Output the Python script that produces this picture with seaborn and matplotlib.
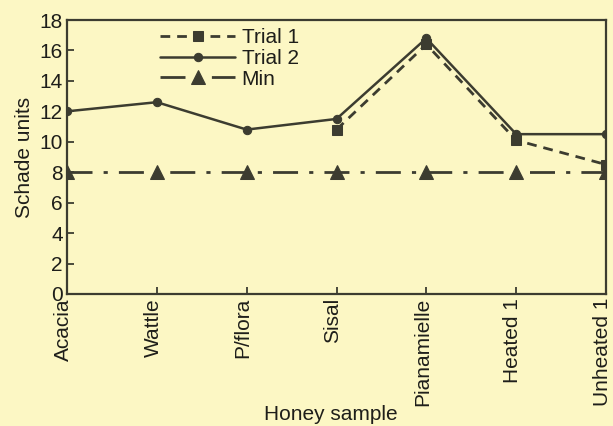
import numpy as np
import pandas as pd
import matplotlib
matplotlib.use("Agg")
import matplotlib.pyplot as plt
from matplotlib.transforms import ScaledTranslation
import seaborn as sns

samples = ["Acacia", "Wattle", "P/flora", "Sisal", "Pianamielle", "Heated 1", "Unheated 1"]
trial1 = [np.nan, np.nan, np.nan, 10.8, 16.4, 10.1, 8.5]
trial2 = [12.0, 12.6, 10.8, 11.5, 16.8, 10.5, 10.5]
minimum = [8.0, 8.0, 8.0, 8.0, 8.0, 8.0, 8.0]
yticks = list(range(0, 20, 2))

bg = "#fcf7c4"
ink = "#3c3c30"
txt = "#1e1e1a"
fs = 15

sns.set_theme(style="ticks")
plt.rcParams["font.family"] = ["Liberation Sans", "DejaVu Sans"]

fig = plt.figure(figsize=(6.13, 4.26), dpi=100, facecolor=bg)
ax = fig.add_axes([0.1093, 0.31, 0.8793, 0.643])
ax.set_facecolor(bg)

pos = np.arange(len(samples))
df = pd.DataFrame({"pos": pos, "Trial 1": trial1, "Trial 2": trial2, "Min": minimum})

sns.lineplot(data=df, x="pos", y="Trial 1", ax=ax, color=ink, lw=2,
             linestyle=(0, (3.5, 2.5)), marker="s", markersize=7.5, markeredgecolor=ink,
             label="Trial 1")
sns.lineplot(data=df, x="pos", y="Trial 2", ax=ax, color=ink, lw=1.8,
             marker="o", markersize=6, markeredgecolor=ink, label="Trial 2")
sns.lineplot(data=df, x="pos", y="Min", ax=ax, color=ink, lw=2,
             linestyle=(0, (9, 4, 1.5, 4)), marker="^", markersize=10.5,
             markeredgecolor=ink, label="Min")

ax.set_xlim(0, len(samples) - 1)
ax.set_ylim(0, 18)
ax.set_yticks(yticks)
ax.set_xticks(pos)
ax.set_xticklabels(samples, rotation=90)
ax.tick_params(axis="both", direction="in", length=5, width=1.3, color=ink,
               labelsize=fs, labelcolor=txt, pad=3)
# nudge the rotated sample names slightly left so the last one stays on the canvas
shift = ScaledTranslation(-0.035, 0, fig.dpi_scale_trans)
for lbl in ax.get_xticklabels():
    lbl.set_transform(lbl.get_transform() + shift)
for s in ax.spines.values():
    s.set_color(ink)
    s.set_linewidth(1.6)

ax.set_xlabel("Honey sample", fontsize=fs, color=txt)
ax.set_ylabel("Schade units", fontsize=fs, color=txt, labelpad=4)
ax.xaxis.set_label_coords(0.49, -0.405)

leg = ax.legend(loc="upper left", bbox_to_anchor=(0.15, 1.015), frameon=False,
                fontsize=fs, handlelength=3.6, labelspacing=0.08,
                handletextpad=0.3, borderaxespad=0.2)
for t in leg.get_texts():
    t.set_color(txt)

fig.savefig("out.png", dpi=100, facecolor=bg)
